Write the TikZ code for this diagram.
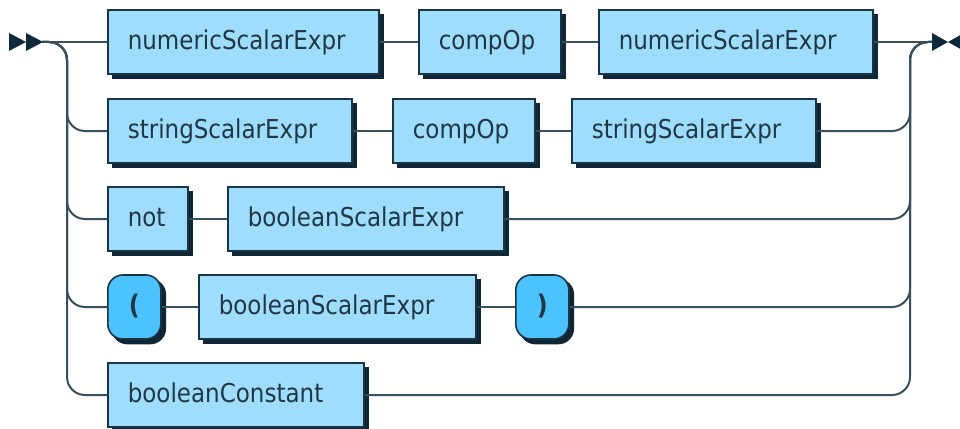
\documentclass[tikz,border=0pt]{standalone}
\usepackage{fontspec}
\setmainfont{DejaVu Sans}[FakeStretch=0.885]
\usetikzlibrary{shadows,calc}
\definecolor{ntfill}{HTML}{9FDDFF}
\definecolor{tfill}{HTML}{4CC3FF}
\definecolor{edgec}{HTML}{1A3444}
\definecolor{shadec}{HTML}{0E2636}
\definecolor{railc}{HTML}{3A4F5C}
\definecolor{txtc}{HTML}{1F3644}
\definecolor{arrowc}{HTML}{0E2A3A}
\begin{document}
\begin{tikzpicture}[x=1pt,y=-1pt,
  boxshadow/.style={general shadow={fill=shadec, draw=shadec, shadow xshift=4.5pt, shadow yshift=-4.5pt}},
  nt/.style={draw=edgec, fill=ntfill, line width=1.6pt, anchor=west,
    minimum height=64pt, inner ysep=0pt, inner xsep=20pt,
    minimum width=#1, text width=#1-40pt, align=flush left,
    text height=18pt, text depth=4pt, text=txtc,
    font=\fontsize{26pt}{30pt}\selectfont, boxshadow},
  tm/.style={draw=edgec, fill=tfill, line width=1.6pt, anchor=west,
    rounded corners=15pt, minimum width=#1, minimum height=64pt, inner sep=0pt,
    text height=18pt, text depth=4pt, text=txtc,
    font=\bfseries\fontsize{27pt}{30pt}\selectfont, boxshadow},
  rail/.style={draw=railc, line width=2pt, rounded corners=18pt},
  tip/.style={fill=arrowc}]
\clip (0,0) rectangle (960,428);
\fill[white] (0,0) rectangle (960,428);

% row 1
\node[nt=271pt] (n11) at (107,42) {numericScalarExpr};
\node[nt=142pt] (n12) at (418,42) {compOp};
\node[nt=274pt] (n13) at (598,42) {numericScalarExpr};
% row 2
\node[nt=244pt] (n21) at (107,131) {stringScalarExpr};
\node[nt=142pt] (n22) at (392,131) {compOp};
\node[nt=244pt] (n23) at (571,131) {stringScalarExpr};
% row 3
\node[nt=80pt] (n31) at (107,219) {not};
\node[nt=276pt] (n32) at (227,219) {booleanScalarExpr};
% row 4
\node[tm=53pt] (t41) at (107,307) {(};
\node[nt=277pt] (n42) at (198,307) {booleanScalarExpr};
\node[tm=53pt] (t43) at (515,307) {)};
% row 5
\node[nt=256pt] (n51) at (107,395) {booleanConstant};

\coordinate (start) at (42,42);
\coordinate (finish) at (933,42);
\coordinate (Lr) at (67,42);
\coordinate (Rr) at (910,42);

% left rails
\draw[rail] (start) -- (n11.west);
\foreach \n in {n21,n31,t41,n51}{
  \draw[rail] (start) -| (Lr |- \n.west) -- (\n.west);
}
% row connectors
\draw[rail] (n11.east) -- (n12.west);
\draw[rail] (n12.east) -- (n13.west);
\draw[rail] (n21.east) -- (n22.west);
\draw[rail] (n22.east) -- (n23.west);
\draw[rail] (n31.east) -- (n32.west);
\draw[rail] (t41.east) -- (n42.west);
\draw[rail] (n42.east) -- (t43.west);
% right rails
\draw[rail] (n13.east) -- (finish);
\foreach \n in {n23,n32,t43,n51}{
  \draw[rail] (\n.east) -| (Rr) -- (finish);
}

% start and end marks
\fill[tip] (9,33) -- (26,42) -- (9,51) -- cycle;
\fill[tip] (26,33) -- (43,42) -- (26,51) -- cycle;
\fill[tip] (932,33) -- (948,42) -- (932,51) -- cycle;
\fill[tip] (964,33) -- (948,42) -- (964,51) -- cycle;
\end{tikzpicture}
\end{document}
